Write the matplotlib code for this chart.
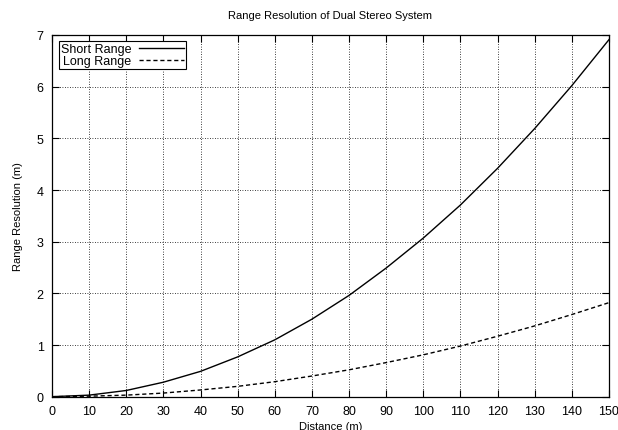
import numpy as np
import matplotlib
matplotlib.use("Agg")
import matplotlib.pyplot as plt

# values, every 10 m
distance = [0, 10, 20, 30, 40, 50, 60, 70, 80, 90, 100, 110, 120, 130, 140, 150]
short_range = [0.0, 0.03, 0.12, 0.28, 0.49, 0.77, 1.10, 1.50, 1.96, 2.49,
               3.07, 3.71, 4.42, 5.19, 6.02, 6.91]
long_range = [0.0, 0.01, 0.03, 0.07, 0.13, 0.20, 0.29, 0.40, 0.52, 0.66,
              0.81, 0.98, 1.17, 1.37, 1.59, 1.82]
x_ticks = list(range(0, 151, 10))
y_ticks = list(range(0, 8))

plt.rcParams['font.family'] = ['Liberation Sans', 'DejaVu Sans']

fig = plt.figure(figsize=(6.18, 4.31), dpi=100)
ax = fig.add_axes([0.0841, 0.0773, 0.9013, 0.8392])

ax.plot(distance, short_range, color='black', linewidth=1.0, label='Short Range')
ax.plot(distance, long_range, color='black', linewidth=1.0, linestyle=(0, (3, 2)),
        label='Long Range')

ax.set_xlim(0, 150)
ax.set_ylim(0, 7)
ax.set_xticks(x_ticks)
ax.set_yticks(y_ticks)
ax.tick_params(direction='in', top=True, right=True, length=5, width=0.8,
               labelsize=9, pad=6)
ax.grid(True, color='black', linestyle=(0, (1, 2)), linewidth=0.6)
for s in ax.spines.values():
    s.set_linewidth(0.9)

ax.set_title('Range Resolution of Dual Stereo System', fontsize=8, pad=12)
ax.set_xlabel('Distance (m)', fontsize=8, labelpad=3)
ax.set_ylabel('Range Resolution (m)', fontsize=8, labelpad=10)

leg = ax.legend(loc='upper left', markerfirst=False, fontsize=9, frameon=True,
                fancybox=False, edgecolor='black', framealpha=1, borderpad=0.15,
                labelspacing=0.0, handlelength=3.6, handletextpad=0.6,
                borderaxespad=0.0, bbox_to_anchor=(0.0126, 0.983))
leg.get_frame().set_linewidth(0.8)
for t in leg.get_texts():
    t.set_ha('right')

fig.savefig('out.png', dpi=100)
